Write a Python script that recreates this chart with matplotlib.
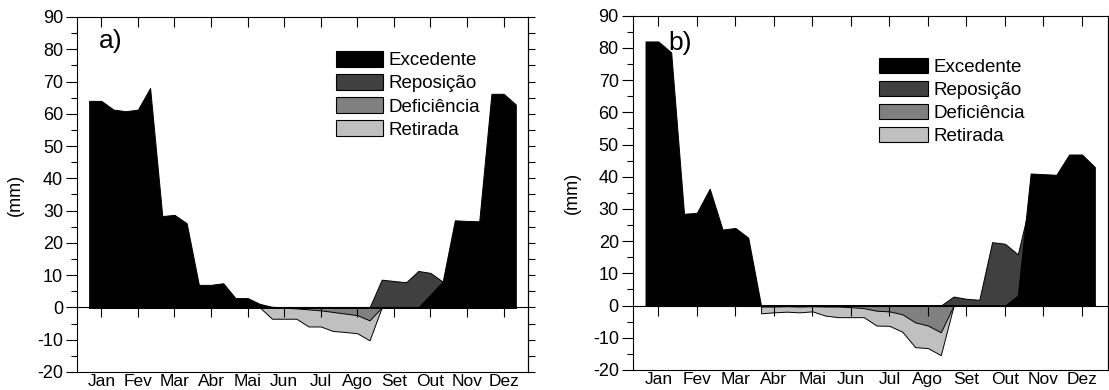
import numpy as np
import matplotlib.pyplot as plt
from matplotlib.patches import Patch
from matplotlib.ticker import MultipleLocator

plt.rcParams['font.family'] = ['Liberation Sans', 'DejaVu Sans']
plt.rcParams['axes.unicode_minus'] = False

nan = np.nan
decendios = np.arange(1, 37)
meses = ['Jan', 'Fev', 'Mar', 'Abr', 'Mai', 'Jun', 'Jul', 'Ago', 'Set', 'Out', 'Nov', 'Dez']
pos_meses = np.arange(12) * 3 + 2   # decendio central de cada mes
nomes = ['Excedente', 'Reposição', 'Deficiência', 'Retirada']
cores = ['#000000', '#404040', '#808080', '#c0c0c0']

# painel a)
exc_a = [64, 64, 61.3, 60.8, 61.3, 68.0, 28.3, 28.7, 26.1, 7.0, 7.0, 7.5, 2.9, 2.9, 1.1, 0.2,
         0, 0, 0, 0, 0, 0, 0, 0, 0, 0, 0, 0,
         4.0, 8.0, 27.0, 26.8, 26.7, 66.2, 66.2, 62.9]
rep_a = [0] * 24 + [8.6, 8.2, 7.8, 11.3, 10.7, 8.0] + [0] * 6
def_a = [0] * 16 + [-0.1, -0.3, -0.6, -0.9, -1.4, -1.9, -2.4, -4.0] + [0] * 12
ret_a = [0] * 15 + [-3.5, -3.5, -3.5, -5.9, -5.9, -7.3, -7.6, -8.0, -10.2] + [0] * 12

# painel b)
exc_b = [82, 82, 78.6, 28.5, 28.8, 36.3, 23.6, 24.1, 21.1] + [0] * 20 + \
        [3.1, 41.0, 40.8, 40.6, 46.9, 46.9, 43.0]
rep_b = [0] * 24 + [2.8, 2.1, 1.8, 19.7, 19.2, 15.9, 32.7] + [0] * 5
def_b = [nan] * 9 + [-0.3, -0.3, -0.2, -0.3, -0.2, -0.3, -0.3, -0.5, -0.8, -1.6, -1.8,
                     -2.7, -5.2, -6.2, -8.3] + [0] * 12
ret_b = [nan] * 9 + [-2.4, -2.1, -1.9, -2.1, -1.8, -3.1, -3.6, -3.6, -3.6, -6.2, -6.3,
                     -8.1, -12.9, -13.2, -15.4] + [0] * 12


def painel(ax, exc, rep, dfc, ret, letra, letra_xy, leg_xy, leg_len, ylab_x):
    for z, (serie, cor) in enumerate([(ret, cores[3]), (dfc, cores[2]),
                                      (rep, cores[1]), (exc, cores[0])]):
        ax.fill_between(decendios, serie, 0, facecolor=cor, edgecolor='k',
                        lw=0.7, zorder=1 + z)

    ax.set_xlim(0, 37)
    ax.set_ylim(-20, 90)
    ax.set_yticks(np.arange(-20, 91, 10))
    ax.yaxis.set_minor_locator(MultipleLocator(5))
    ax.tick_params(axis='y', which='major', direction='out', length=8, width=0.8,
                   labelsize=13, pad=2)
    ax.tick_params(axis='y', which='minor', direction='out', length=4, width=0.8)
    ax.set_xticks(pos_meses)
    ax.set_xticklabels(meses)
    ax.tick_params(axis='x', bottom=False, top=True, direction='in', length=7,
                   width=0.8, labelsize=12.5, pad=1.5)
    for s in ax.spines.values():
        s.set_linewidth(0.8)

    # eixo no zero com marcas para baixo
    zero = ax.secondary_xaxis(0, transform=ax.transData)
    zero.set_xticks(pos_meses)
    zero.tick_params(direction='out', length=7, width=0.8, labelbottom=False)
    zero.spines['bottom'].set_linewidth(0.8)
    zero.set_zorder(6)

    direita = ax.secondary_yaxis('right')
    direita.set_yticks(np.arange(-20, 91, 5))
    direita.tick_params(direction='out', length=5, width=0.8, labelright=False)
    direita.spines['right'].set_linewidth(0.8)

    ax.set_ylabel('(mm)', fontsize=13)
    ax.yaxis.set_label_coords(ylab_x, 0.5)
    ax.text(letra_xy[0], letra_xy[1], letra, transform=ax.transAxes,
            fontsize=19, va='top', ha='left')

    handles = [Patch(facecolor=c, edgecolor='k', lw=0.8) for c in cores]
    ax.legend(handles, nomes, loc='upper left', bbox_to_anchor=leg_xy, frameon=False,
              fontsize=13.5, handlelength=leg_len, handleheight=0.89, labelspacing=0.26,
              handletextpad=0.3, borderpad=0, borderaxespad=0)


fig = plt.figure(figsize=(11.09, 3.90), dpi=100)
ax_a = fig.add_axes([0.0694, 0.0462, 0.4067, 0.9103])
ax_b = fig.add_axes([0.5705, 0.0513, 0.4283, 0.9085])

painel(ax_a, exc_a, rep_a, def_a, ret_a, 'a)', (0.049, 0.967), (0.574, 0.9035), 2.5, -0.1175)
painel(ax_b, exc_b, rep_b, def_b, ret_b, 'b)', (0.074, 0.958), (0.519, 0.8815), 2.6, -0.109)

fig.savefig('out.png', dpi=100)
